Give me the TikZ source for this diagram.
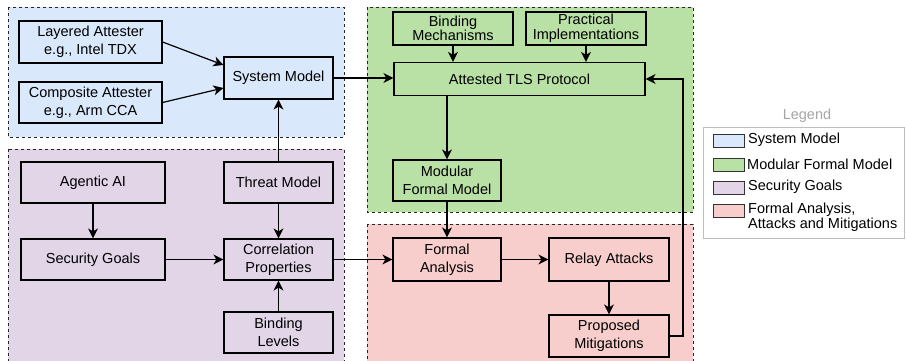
\documentclass[tikz,border=0pt]{standalone}
\usepackage{fontspec}
\setmainfont{Liberation Sans}
\usetikzlibrary{arrows.meta}
\definecolor{cblue}{HTML}{DAE8FC}
\definecolor{cgreen}{HTML}{B9E0A5}
\definecolor{cpurple}{HTML}{E1D5E7}
\definecolor{cred}{HTML}{F8CECC}
\definecolor{legendgray}{HTML}{A6A6A6}
\definecolor{legendborder}{HTML}{BFBFBF}
\begin{document}
\begin{tikzpicture}[x=1pt,y=-1pt,
  box/.style={draw=black, line width=1.2pt, inner sep=0pt, align=center,
    font=\fontsize{14.5}{18}\selectfont},
  tight/.style={font=\fontsize{14.5}{14.5}\selectfont},
  region/.style={draw=black!85, dash pattern=on 3pt off 3pt, line width=0.9pt},
  conn/.style={line width=1.2pt, -{Stealth[length=10pt,width=10pt,inset=3pt]}},
  swatch/.style={draw=black!80, line width=1pt, minimum width=31pt, minimum height=13pt, inner sep=0pt},
  legtext/.style={inner sep=0pt, align=left, font=\fontsize{14.5}{15}\selectfont}]
\clip (0,0) rectangle (906,361);
% regions
\path[region, fill=cblue] (8,7) rectangle (344,137);
\path[region, fill=cpurple] (8,149) rectangle (344,370);
\path[region, fill=cgreen] (367,7) rectangle (693,212);
\path[region, fill=cred] (367,224) rectangle (693,370);
% nodes
\node[box, fill=cblue, minimum width=143pt, minimum height=42pt] (lay) at (90.5,42) {Layered Attester\\e.g., Intel TDX};
\node[box, fill=cblue, minimum width=143pt, minimum height=41pt] (comp) at (90.5,102.5) {Composite Attester\\e.g., Arm CCA};
\node[box, fill=cblue, minimum width=109pt, minimum height=42pt] (sys) at (278.5,78) {System Model};
\node[box, fill=cpurple, minimum width=144pt, minimum height=41pt] (agent) at (93,182.5) {Agentic AI};
\node[box, fill=cpurple, minimum width=109pt, minimum height=41pt] (threat) at (278.5,182.5) {Threat Model};
\node[box, fill=cpurple, minimum width=144pt, minimum height=41pt] (secg) at (93,259.5) {Security Goals};
\node[box, fill=cpurple, minimum width=109pt, minimum height=41pt] (corr) at (278.5,259.5) {Correlation\\Properties};
\node[box, fill=cpurple, minimum width=109pt, minimum height=41pt] (bindl) at (278.5,332.5) {Binding\\Levels};
\node[box, tight, fill=cgreen, minimum width=120pt, minimum height=33pt] (bindm) at (453,28.5) {Binding\\Mechanisms};
\node[box, tight, fill=cgreen, minimum width=120pt, minimum height=33pt] (pract) at (586,28.5) {Practical\\Implementations};
\node[box, fill=cgreen, minimum width=251pt, minimum height=33pt] (tls) at (519.5,79) {Attested TLS Protocol};
\node[box, fill=cgreen, minimum width=108pt, minimum height=41pt] (modfm) at (447,180.5) {Modular\\Formal Model};
\node[box, fill=cred, minimum width=108pt, minimum height=43pt] (fa) at (447,259.5) {Formal\\Analysis};
\node[box, fill=cred, minimum width=120pt, minimum height=43pt] (relay) at (609,259.5) {Relay Attacks};
\node[box, fill=cred, minimum width=120pt, minimum height=42pt] (prop) at (609,336) {Proposed\\Mitigations};
% connectors
\draw[conn] (lay.east) -- ([yshift=13pt]sys.west);
\draw[conn] (comp.east) -- ([yshift=-10pt]sys.west);
\draw[conn] (threat.north) -- (sys.south);
\draw[conn] (sys.east) -- (sys.east -| tls.west);
\draw[conn] (bindm.south) -- (bindm.south |- tls.north);
\draw[conn] (pract.south) -- (pract.south |- tls.north);
\draw[conn] (tls.south -| modfm.north) -- (modfm.north);
\draw[conn] (modfm.south) -- (fa.north);
\draw[conn] (agent.south) -- (secg.north);
\draw[conn] (secg.east) -- (corr.west);
\draw[conn] (threat.south) -- (corr.north);
\draw[conn] (bindl.north) -- (corr.south);
\draw[conn] (corr.east) -- (fa.west);
\draw[conn] (fa.east) -- (relay.west);
\draw[conn] (relay.south) -- (prop.north);
\coordinate (fb) at (683,336);
\draw[conn] (prop.east) -- (fb) |- (tls.east);
% legend
\node[text=legendgray, inner sep=0pt, font=\fontsize{14.5}{17}\selectfont] (legtitle) at (807,116) {Legend};
\node[draw=legendborder, line width=0.9pt, fill=white, minimum width=201pt, minimum height=111pt, inner sep=0pt] (legbox) at (803.5,182.5) {};
\node[swatch, fill=cblue] (s1) at (728.5,141) {};
\node[swatch, fill=cgreen] (s2) at (728.5,164.5) {};
\node[swatch, fill=cpurple] (s3) at (728.5,187.5) {};
\node[swatch, fill=cred] (s4) at (728.5,210.5) {};
\node[legtext, anchor=west] (l1) at (748,140) {System Model};
\node[legtext, anchor=west] (l2) at (747,164) {Modular Formal Model};
\node[legtext, anchor=west] (l3) at (748,187) {Security Goals};
\node[legtext, anchor=north west] (l4) at (748,203) {Formal Analysis,\\Attacks and Mitigations};
\end{tikzpicture}
\end{document}
